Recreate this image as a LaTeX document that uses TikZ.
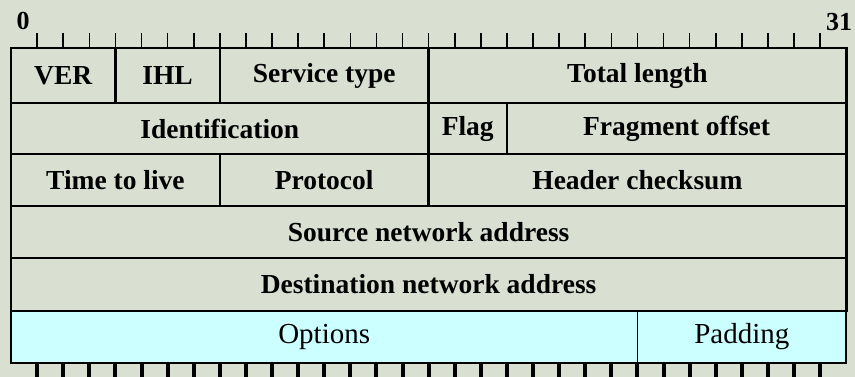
\documentclass[tikz,border=0pt]{standalone}
\usepackage{fontspec}
\setmainfont{Liberation Serif}
\definecolor{bgcol}{RGB}{217,224,210}
\definecolor{optcol}{RGB}{204,255,255}
\newcommand{\bitw}{26.1}
\newcommand{\xo}{11}
\tikzset{
  field/.style={draw, rectangle, line width=2.6pt, inner sep=0pt, outer sep=0pt,
    font=\fontsize{27.5}{30}\selectfont\bfseries},
  optfield/.style={field, line width=1.6pt, fill=optcol,
    font=\fontsize{29}{30}\selectfont\mdseries},
  bitlabel/.style={font=\fontsize{26}{28}\selectfont\bfseries, inner sep=0pt},
  toptick/.style={line width=1.6pt},
  bottick/.style={line width=4pt},
}
\begin{document}
\begin{tikzpicture}[x=1pt,y=-1pt]

        \useasboundingbox[fill=bgcol] (0,0) rectangle (855,377);

        % bit numbers
        \node[bitlabel] (b0)  at (23,21)  {0};
        \node[bitlabel] (b31) at (839,22) {31};

        % ticks
        \foreach \k in {1,...,31} {
          \draw[toptick] ({\xo+\k*\bitw},33) -- ({\xo+\k*\bitw},48);
          \draw[bottick] ({\xo+\k*\bitw},363) -- ({\xo+\k*\bitw},377);
        }

        \begin{scope}[every node/.style={field}]
          % row 1
          \node[minimum width=104.4pt, minimum height=55pt] (ver)   at (63.2,75.5)  {VER};
          \node[minimum width=104.4pt, minimum height=55pt] (ihl)   at (167.6,75.5) {IHL};
          \node[minimum width=208.8pt, minimum height=55pt] (tos)   at (324.2,75.5) {Service type};
          \node[minimum width=417.6pt, minimum height=55pt] (len)   at (637.4,75.5) {Total length};
          % row 2
          \node[minimum width=417.6pt, minimum height=51pt] (ident) at (219.8,128.5)  {Identification};
          \node[minimum width=78.3pt,  minimum height=51pt] (flag)  at (467.75,128.5) {Flag};
          \node[minimum width=339.3pt, minimum height=51pt] (frag)  at (676.55,128.5) {Fragment offset};
          % row 3
          \node[minimum width=208.8pt, minimum height=52pt] (ttl)   at (115.4,180) {Time to live};
          \node[minimum width=208.8pt, minimum height=52pt] (proto) at (324.2,180) {Protocol};
          \node[minimum width=417.6pt, minimum height=52pt] (csum)  at (637.4,180) {Header checksum};
          % rows 4, 5
          \node[minimum width=835.2pt, minimum height=52pt] (src)   at (428.6,232)   {Source network address};
          \node[minimum width=835.2pt, minimum height=53pt] (dst)   at (428.6,284.5) {Destination network address};
        \end{scope}

        \begin{scope}[every node/.style={optfield}]
          \node[minimum width=626.4pt, minimum height=52pt] (opt) at (324.2,337) {Options};
          \node[minimum width=208.8pt, minimum height=52pt] (pad) at (741.8,337) {Padding};
        \end{scope}

      \end{tikzpicture}
\end{document}
